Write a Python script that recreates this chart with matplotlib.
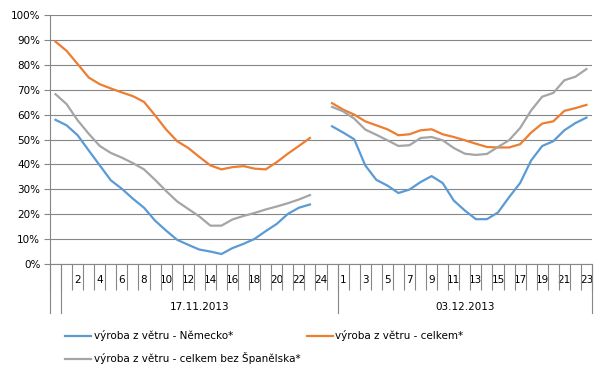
import numpy as np
import matplotlib
matplotlib.use('Agg')
import matplotlib.pyplot as plt
import matplotlib.transforms as mtransforms

# hourly share of wind production (%)
de_1711 = [57.9, 55.7, 51.7, 45.6, 39.6, 33.6, 30.2, 26.2, 22.6, 17.4, 13.4, 9.7,
           7.7, 5.8, 5.0, 4.0, 6.4, 8.1, 10.1, 13.2, 16.1, 20.1, 22.6, 23.9]
total_1711 = [89.3, 85.6, 80.3, 74.9, 72.2, 70.5, 68.9, 67.4, 65.1, 59.7, 54.0, 49.3,
              46.6, 43.0, 39.6, 38.0, 38.9, 39.3, 38.3, 38.0, 40.9, 44.3, 47.4, 50.6]
nospain_1711 = [68.2, 64.2, 57.7, 52.3, 47.4, 44.6, 42.7, 40.5, 38.0, 33.8, 29.3, 25.1,
                22.1, 19.1, 15.4, 15.4, 17.9, 19.3, 20.5, 21.9, 23.1, 24.4, 25.9, 27.7]

de_0312 = [55.3, 52.8, 50.1, 39.6, 33.8, 31.5, 28.5, 29.9, 32.9, 35.3, 32.5, 25.5,
           21.5, 18.0, 18.0, 20.7, 26.8, 32.5, 41.6, 47.4, 49.3, 53.7, 56.6, 58.8]
total_0312 = [64.6, 62.0, 60.0, 57.3, 55.7, 54.1, 51.7, 52.1, 53.7, 54.1, 52.1, 51.0,
              49.7, 48.3, 47.0, 46.8, 46.8, 48.1, 52.8, 56.4, 57.3, 61.5, 62.6, 63.9]
nospain_0312 = [63.1, 61.3, 58.4, 54.0, 51.9, 49.7, 47.4, 47.7, 50.6, 51.0, 49.7, 46.6,
                44.3, 43.8, 44.2, 47.0, 49.7, 54.6, 61.7, 67.2, 68.7, 73.8, 75.2, 78.3]

hour_labels = [''] + [str(h) for h in range(1, 25)] + [''] + [str(h) for h in range(1, 24)]
day_labels = ['17.11.2013', '03.12.2013']
series_names = ['výroba z větru - Německo*', 'výroba z větru - celkem*',
                'výroba z větru - celkem bez Španělska*']
colors = ['#5B9BD5', '#ED7D31', '#A5A5A5']

plt.rcParams['font.family'] = ['DejaVu Sans']

fig = plt.figure(figsize=(6, 3.8), dpi=100)
ax = fig.add_axes([50 / 600, 1 - 264 / 380, 542 / 600, 249 / 380])

n = len(hour_labels)
x = np.arange(n)


def full(a, b):
    return np.array(a + [np.nan] + b)


lines = []
for vals, col, name in zip([full(de_1711, de_0312), full(total_1711, total_0312),
                            full(nospain_1711, nospain_0312)], colors, series_names):
    ln, = ax.plot(x, vals / 100, color=col, lw=1.6, label=name, solid_joinstyle='round')
    lines.append(ln)

ax.set_xlim(-0.5, n - 0.5)
ax.set_ylim(0, 1)
ax.set_yticks(np.arange(0, 1.01, 0.1))
ax.set_yticklabels([f'{int(round(v * 100))}%' for v in np.arange(0, 1.01, 0.1)], fontsize=7.5)
ax.grid(axis='y', color='#868686', lw=0.8)
ax.set_axisbelow(True)
for s in ['top', 'right']:
    ax.spines[s].set_visible(False)
ax.spines['left'].set_color('#868686')
ax.spines['bottom'].set_color('#868686')
ax.tick_params(axis='y', length=4, color='#868686', pad=3)

# category ticks at boundaries, labels every second category
ax.set_xticks(np.arange(-0.5, n), minor=True)
ax.tick_params(axis='x', which='minor', length=19, color='#868686', width=0.8)
ax.set_xticks(x)
ax.set_xticklabels([lab if i % 2 == 0 else '' for i, lab in enumerate(hour_labels)], fontsize=7.5)
ax.tick_params(axis='x', which='major', length=0, pad=8)

# day groups
trans = mtransforms.blended_transform_factory(ax.transData, ax.transAxes)
for b in [-0.5, 0.5, 25.5, n - 0.5]:
    ax.plot([b, b], [0, -49 / 249], transform=trans, color='#868686', lw=0.8, clip_on=False)
for (a, b), lab in zip([(0.5, 25.5), (25.5, n - 0.5)], day_labels):
    ax.text((a + b) / 2, -43 / 249, lab, transform=trans, ha='center', va='center', fontsize=7.5)

handles = [lines[0], lines[2], lines[1]]
fig.legend(handles=handles, labels=[h.get_label() for h in handles], ncol=2,
           loc='upper left', bbox_to_anchor=(60 / 600, 1 - 325 / 380), frameon=False,
           fontsize=7.5, handlelength=2.5, handletextpad=0.25, columnspacing=0.6,
           labelspacing=1.05, borderpad=0)

fig.savefig('out.png', dpi=100)
